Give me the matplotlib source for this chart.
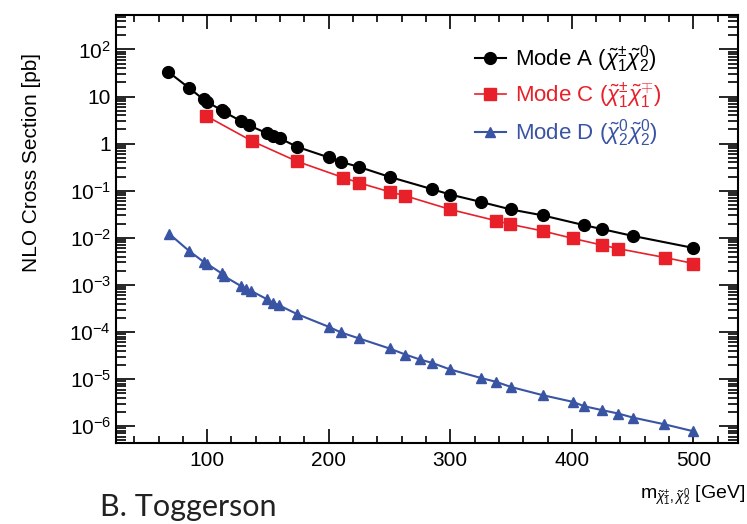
import matplotlib
matplotlib.use('Agg')
import matplotlib.pyplot as plt
from matplotlib.ticker import FixedLocator, FixedFormatter, LogLocator, MultipleLocator, NullFormatter

plt.rcParams['font.family'] = ['Liberation Sans', 'DejaVu Sans']
plt.rcParams['mathtext.fontset'] = 'custom'
plt.rcParams['mathtext.rm'] = 'Liberation Sans'
plt.rcParams['mathtext.it'] = 'Liberation Sans:italic'

# Mode A: chi1+- chi2^0
mass_a = [68, 85, 97, 100, 112, 114, 128, 134, 149, 154, 160, 174, 200, 210,
          225, 250, 285, 300, 325, 350, 376, 410, 425, 450, 500]
xsec_a = [33.4, 15.3, 8.7, 7.7, 5.1, 4.7, 3.0, 2.47, 1.67, 1.44, 1.29, 0.855,
          0.51, 0.41, 0.32, 0.197, 0.108, 0.083, 0.058, 0.040, 0.030, 0.0186,
          0.0153, 0.0110, 0.0061]

# Mode C: chi1+- chi1-+
mass_c = [99, 137, 174, 212, 225, 250, 263, 300, 338, 349, 376, 401, 425, 438,
          477, 500]
xsec_c = [3.9, 1.13, 0.42, 0.19, 0.147, 0.095, 0.078, 0.040, 0.023, 0.0195,
          0.014, 0.0097, 0.0070, 0.0059, 0.0038, 0.00285]

# Mode D: chi2^0 chi2^0
mass_d = [69, 85, 97, 100, 112, 114, 128, 132, 136, 149, 154, 159, 174, 200,
          210, 225, 250, 263, 275, 285, 300, 325, 338, 350, 376, 401, 410, 425,
          438, 450, 476, 500]
xsec_d = [0.012, 0.0053, 0.0031, 0.0028, 0.00175, 0.00153, 0.00094, 0.00081,
          0.00075, 0.00050, 0.00042, 0.00037, 0.00024, 1.29e-4, 9.8e-5, 7.3e-5,
          4.47e-5, 3.33e-5, 2.61e-5, 2.21e-5, 1.6e-5, 1.06e-5, 8.7e-6, 6.8e-6,
          4.56e-6, 3.28e-6, 2.66e-6, 2.19e-6, 1.86e-6, 1.53e-6, 1.10e-6, 7.8e-7]

y_ticks = [1e-6, 1e-5, 1e-4, 1e-3, 1e-2, 1e-1, 1, 10, 100]
y_ticklabels = ['10$^{-6}$', '10$^{-5}$', '10$^{-4}$', '10$^{-3}$', '10$^{-2}$',
                '10$^{-1}$', '1', '10', '10$^{2}$']

red = '#e8202a'
blue = '#3a54a4'

fig = plt.figure(figsize=(7.47, 5.24), dpi=100)
ax = fig.add_axes([0.1553, 0.1546, 0.8332, 0.8168])

ax.plot(mass_a, xsec_a, color='black', lw=1.5, marker='o', ms=8.5,
        label=r'Mode A ($\tilde{\chi}^{\pm}_{1}\tilde{\chi}^{0}_{2}$)')
ax.plot(mass_c, xsec_c, color=red, lw=1.2, marker='s', ms=8,
        label=r'Mode C ($\tilde{\chi}^{\pm}_{1}\tilde{\chi}^{\mp}_{1}$)')
ax.plot(mass_d, xsec_d, color=blue, lw=1.5, marker='^', ms=7.5,
        label=r'Mode D ($\tilde{\chi}^{0}_{2}\tilde{\chi}^{0}_{2}$)')

ax.set_yscale('log')
ax.set_xlim(25, 537)
ax.set_ylim(4.4e-7, 540)

ax.yaxis.set_major_locator(FixedLocator(y_ticks))
ax.yaxis.set_major_formatter(FixedFormatter(y_ticklabels))
ax.yaxis.set_minor_locator(LogLocator(base=10, subs=range(2, 10), numticks=20))
ax.yaxis.set_minor_formatter(NullFormatter())
ax.xaxis.set_major_locator(MultipleLocator(100))
ax.xaxis.set_minor_locator(MultipleLocator(20))

ax.tick_params(axis='both', which='both', direction='in', top=True, right=True,
               labelsize=15, width=1.2)
ax.tick_params(axis='y', which='major', length=14)
ax.tick_params(axis='y', which='minor', length=7)
ax.tick_params(axis='x', which='major', length=10, pad=6)
ax.tick_params(axis='x', which='minor', length=5)
for s in ax.spines.values():
    s.set_linewidth(1.5)

ax.set_ylabel('NLO Cross Section [pb]', fontsize=15, labelpad=12)
ax.yaxis.set_label_coords(-0.12, 0.655)

leg = ax.legend(loc='upper left', bbox_to_anchor=(0.562, 0.955), frameon=False,
                fontsize=16, handlelength=1.4, handletextpad=0.4,
                labelspacing=0.3, borderaxespad=0)
for txt, col in zip(leg.get_texts(), ['black', red, blue]):
    txt.set_color(col)

fig.text(0.998, 1 - 495 / 524,
         r'm$_{\tilde{\chi}^{\pm}_{1},\tilde{\chi}^{0}_{2}}$ [GeV]',
         ha='right', va='center', fontsize=14)
fig.text(100 / 747, 1 - 516 / 524, 'B. Toggerson', ha='left', va='baseline',
         fontsize=22, family=['Lato', 'DejaVu Sans'], color='#222222')

fig.savefig('out.png', dpi=100)
